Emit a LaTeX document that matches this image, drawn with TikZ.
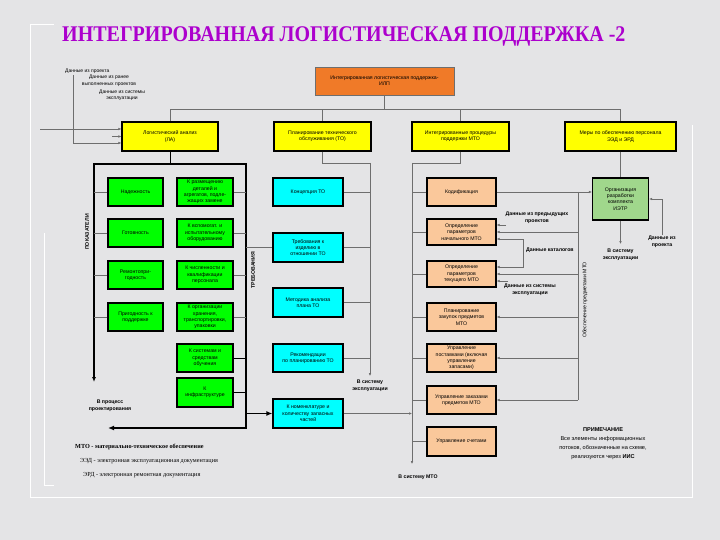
\documentclass[tikz,border=0pt]{standalone}
\usepackage{fontspec}
\setmainfont{Liberation Serif}
\setsansfont{Liberation Sans}
\usetikzlibrary{arrows.meta}
\definecolor{bgc}{RGB}{228,228,230}
\definecolor{titlec}{RGB}{172,0,205}
\definecolor{orangec}{RGB}{240,122,40}
\definecolor{salm}{RGB}{250,200,155}
\definecolor{lgreen}{RGB}{160,215,140}
\definecolor{yelc}{RGB}{255,255,0}
\definecolor{grnc}{RGB}{0,255,0}
\definecolor{cync}{RGB}{0,255,255}
\definecolor{linec}{RGB}{110,110,110}
\begin{document}
\begin{tikzpicture}[x=1pt,y=-1pt,
  box/.style={draw=black, line width=1.2pt, rectangle, align=center, inner sep=0.5pt,
    font=\sffamily\fontsize{5.2}{6.3}\selectfont},
  yel/.style={box, fill=yelc, minimum height=29pt},
  grn/.style={box, fill=grnc, minimum width=55pt, minimum height=28pt},
  grr/.style={box, fill=grnc, minimum width=56pt, minimum height=28pt},
  cyn/.style={box, fill=cync, minimum width=70pt, minimum height=28pt},
  sal/.style={box, fill=salm, minimum width=69pt, minimum height=28pt},
  con/.style={draw=linec, line width=0.5pt},
  thk/.style={draw=black, line width=1.4pt},
  arr/.style={-{Latex[length=3pt,width=2.6pt]}},
  lbl/.style={font=\sffamily\bfseries\fontsize{5.2}{6.6}\selectfont, align=center, inner sep=0pt},
  txt/.style={font=\sffamily\fontsize{5}{6.4}\selectfont, align=center, inner sep=0pt},
  leg/.style={font=\fontsize{6.2}{7}\selectfont, anchor=west, inner sep=0pt}
]
\fill[bgc] (0,0) rectangle (720,540);
\useasboundingbox (0,0) rectangle (720,540);
% frame
\draw[white, line width=0.8pt] (54,24) -- (30,24) -- (30,497) -- (692,497) -- (692,125);
\draw[white, line width=0.8pt] (44,233) -- (44,485) -- (54,485);

% title
\node[font=\bfseries\fontsize{20}{24}\selectfont, text=titlec, anchor=west, inner sep=0pt] (title) at (62,36)
  {\scalebox{1}[1.12]{ИНТЕГРИРОВАННАЯ ЛОГИСТИЧЕСКАЯ ПОДДЕРЖКА -2}};

% top box
\node[box, fill=orangec, draw=linec, line width=0.6pt, minimum width=139pt, minimum height=28pt] (ilp) at (384.5,81)
  {Интегрированная логистическая поддержка-\\ИЛП};

% yellow boxes
\node[yel, minimum width=96pt] (la) at (170,136.5) {Логистический анализ\\(ЛА)};
\node[yel, minimum width=97pt] (to) at (322.5,136.5) {Планирование технического\\обслуживания (ТО)};
\node[yel, minimum width=97pt] (mto) at (460.5,136.5) {Интегрированные процедуры\\поддержки МТО};
\node[yel, minimum width=111pt] (eed) at (620.5,136.5) {Меры по обеспечению персонала\\ЭЭД и ЭРД};

\draw[con] (ilp.south) -- ++(0,14) coordinate (hb);
\draw[con] (hb) -| (la.north);
\draw[con] (hb) -| (to.north);
\draw[con] (hb) -| (mto.north);
\draw[con] (hb) -| (eed.north);

% top-left inputs
\node[txt, anchor=west] (d1) at (65,71) {Данные из проекта};
\node[txt] (d2) at (109,81) {Данные из ранее\\выполненных проектов};
\node[txt] (d3) at (122,95.5) {Данные из системы\\эксплуатации};
\coordinate (d1s) at (73,75);
\coordinate (lin) at (40,129);
\coordinate (mid) at (112,136.5);
\draw[con, arr] (d1s) |- ([yshift=-6.5pt]la.west);
\draw[con, arr] (lin) -- (lin -| la.west);
\draw[con, arr] (mid) -- (la.west);

% big box (LA)
\coordinate (bbtl) at (94,164);
\coordinate (bbtr) at (246,164);
\coordinate (bbbr) at (246,428);
\coordinate (bbend) at (108,428);
\coordinate (bbl) at (94,382);
\draw[thk, {Latex[length=5pt,width=4pt]}-{Latex[length=6pt,width=5pt]}] (bbl) -- (bbtl) -- (bbtr) -- (bbbr) -- (bbend);
\draw[draw=black, line width=0.7pt] (la.south) -- (la.south |- bbtl);

\node[lbl, rotate=90] (pok) at (87,232) {ПОКАЗАТЕЛИ};
\node[lbl, rotate=90] (treb) at (253,270) {ТРЕБОВАНИЯ};
\node[lbl] (vproc) at (110,406) {В процесс\\проектирования};

% green boxes
\node[grn] (g1) at (135.5,192) {Надежность};
\node[grn] (g2) at (135.5,233) {Готовность};
\node[grn] (g3) at (135.5,275) {Ремонтопри-\\годность};
\node[grn] (g4) at (135.5,317) {Пригодность к\\поддержке};
\node[grr] (k1) at (205,192) {К размещению\\деталей и\\агрегатов, подле-\\жащих замене};
\node[grr] (k2) at (205,233) {К вспомогат. и\\испытательному\\оборудованию};
\node[grr] (k3) at (205,275) {К численности и\\квалификации\\персонала};
\node[grr] (k4) at (205,317) {К организации\\хранения,\\транспортировки,\\упаковки};
\node[grr] (k5) at (205,358) {К системам и\\средствам\\обучения};
\node[grr, minimum height=29pt] (k6) at (205,392.5) {К\\инфраструктуре};
\foreach \g in {g1,g2,g3,g4} \draw[con] (\g.west) -- (\g.west -| bbtl);
\foreach \k in {k1,k2,k3,k4} \draw[con] (\k.east) -- (\k.east -| bbtr);
\foreach \k in {k5,k6} \draw[draw=black, line width=0.8pt] (\k.east) -- (\k.east -| bbtr);

% cyan boxes
\node[cyn] (c1) at (308,192) {Концепция ТО};
\node[cyn, minimum height=29pt] (c2) at (308,247.5) {Требования к\\изделию в\\отношении ТО};
\node[cyn, minimum height=29pt] (c3) at (308,302.5) {Методика анализа\\плана ТО};
\node[cyn] (c4) at (308,358) {Рекомендации\\по планированию ТО};
\node[cyn, minimum height=29pt] (c5) at (308,413.5) {К номенклатуре и\\количеству запасных\\частей};
\draw[con] (c2.west -| bbtr) -- (c2.west);
\draw[thk, -{Latex[length=6pt,width=5pt]}] (c5.west -| bbtr) -- (c5.west);

\coordinate (tob) at (370,163);
\coordinate (toend) at (370,376);
\draw[con] (to.south) |- (tob);
\draw[con, arr] (tob) -- (toend);
\foreach \c in {c1,c2,c3,c4} \draw[con] (\c.east) -- (\c.east -| tob);
\node[lbl] (tosys) at (370,386) {В систему\\эксплуатации};

% salmon boxes
\node[sal] (s1) at (461.5,192) {Кодификация};
\node[sal, minimum height=26pt] (s2) at (461.5,232) {Определение\\параметров\\начального МТО};
\node[sal, minimum height=26pt] (s3) at (461.5,274) {Определение\\параметров\\текущего МТО};
\node[sal] (s4) at (461.5,317) {Планирование\\закупок предметов\\МТО};
\node[sal] (s5) at (461.5,358) {Управление\\поставками (включая\\управление\\запасами)};
\node[sal] (s6) at (461.5,400) {Управление заказами\\предметов МТО};
\node[sal, minimum height=29pt] (s7) at (461.5,441.5) {Управление счетами};

\coordinate (mtob) at (412,163);
\coordinate (mtoend) at (412,464);
\draw[con] (mto.south) |- (mtob);
\draw[con, arr] (mtob) -- (mtoend);
\foreach \s in {s1,s2,s3,s4,s5,s6,s7} \draw[con] (\s.west) -- (\s.west -| mtob);
\draw[con, arr] (c5.east) -- (c5.east -| mtob);
\node[lbl] (mtosys) at (418,477) {В систему МТО};

% IETR
\node[box, fill=lgreen, minimum width=56pt, minimum height=42pt] (ietr) at (620.5,199)
  {Организация\\разработки\\комплекта\\ИЭТР};
\draw[con] (eed.south) -- (ietr.north);
\coordinate (ietrend) at (620.5,244);
\draw[con, arr] (ietr.south) -- (ietrend);
\node[lbl] (ietrsys) at (620.5,255) {В систему\\эксплуатации};
\coordinate (dpr) at (662,235);
\draw[con, arr] (dpr) |- (ietr.east);
\node[lbl, anchor=north] (dprt) at (662,236) {Данные из\\проекта};
\draw[con, arr] (s1.east) -- (s1.east -| ietr.west);

% long supply line
\coordinate (lv1) at (578,192);
\coordinate (lv2) at (578,400);
\draw[con] (lv1) -- (lv2);
\foreach \s in {s2,s3,s4,s5,s6} \draw[con, arr] (\s.east -| lv1) -- (\s.east);
\node[font=\sffamily\fontsize{5.2}{6.3}\selectfont, rotate=90, inner sep=0pt] (obesp) at (585,300) {Обеспечение предметами МТО};

% data inputs
\coordinate (pp) at (506,225);
\draw[con, arr] (pp) -- ([yshift=7pt]s2.east);
\node[lbl] (ppt) at (537,217.5) {Данные из предыдущих\\проектов};
\coordinate (catm) at (523,253);
\draw[con, arr] (catm) |- ([yshift=-7pt]s2.east);
\draw[con, arr] (catm) |- ([yshift=7pt]s3.east);
\node[lbl, anchor=west] (catt) at (526,250) {Данные каталогов};
\coordinate (sd) at (508,281);
\draw[con, arr] (sd) -- ([yshift=-7pt]s3.east);
\node[lbl] (sdt) at (530,290) {Данные из системы\\эксплуатации};

% legend
\node[leg, font=\bfseries\fontsize{6.2}{7}\selectfont] (l1) at (75,447) {МТО - материально-техническое обеспечение};
\node[leg] (l2) at (80,461) {ЭЭД - электронная эксплуатационная документация};
\node[leg] (l3) at (83,475) {ЭРД - электронная ремонтная документация};

\node[font=\sffamily\fontsize{5.6}{9}\selectfont, align=center, inner sep=0pt] (note) at (603,444)
  {\textbf{ПРИМЕЧАНИЕ}\\Все элементы информационных\\потоков, обозначенные на схеме,\\реализуются через \textbf{ИИС}};
\end{tikzpicture}
\end{document}
